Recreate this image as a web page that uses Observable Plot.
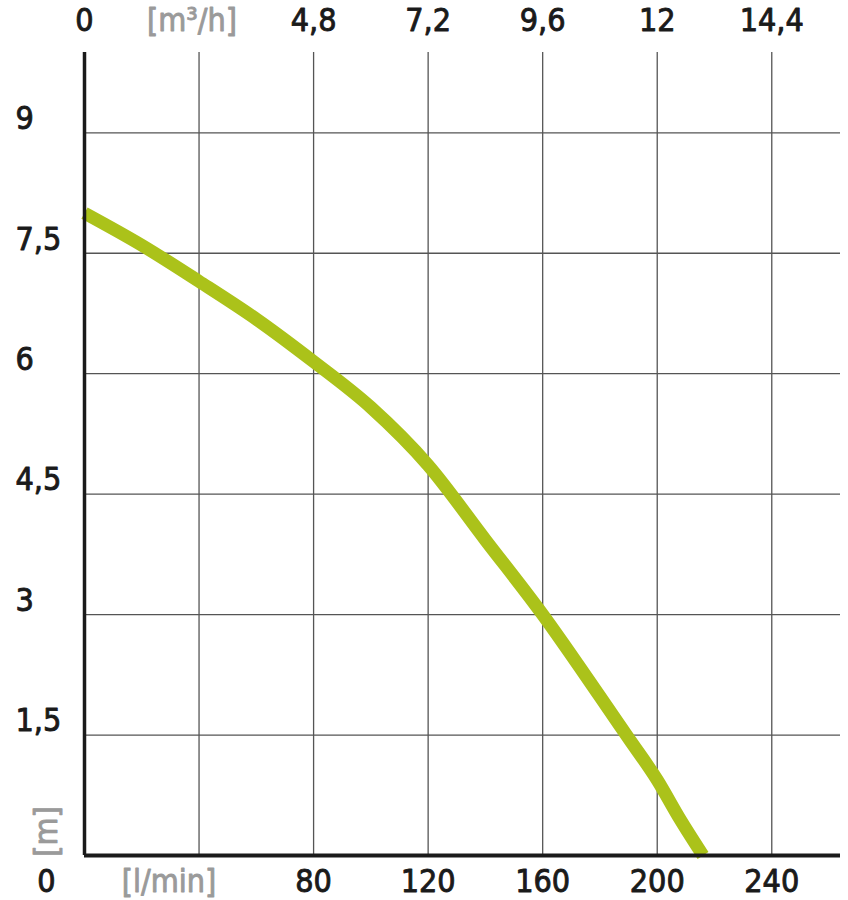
<!DOCTYPE html>
<html>
<head>
<meta charset="utf-8">
<script src="https://cdn.jsdelivr.net/npm/d3@7"></script>
<script src="https://cdn.jsdelivr.net/npm/@observablehq/plot@0.6"></script>
<style>
  html, body { margin: 0; padding: 0; background: #fff; }
  #chart svg { display: block; }
</style>
</head>
<body>
<div id="chart"></div>
<script>
// Flow (l/min) vs head (m)
const flow = [0, 20, 40, 60, 80, 100, 120, 140, 160, 180, 190, 200, 208, 216];
const head = [8.0, 7.6, 7.15, 6.68, 6.15, 5.58, 4.86, 3.93, 3.0, 1.98, 1.46, 0.94, 0.45, 0];

// Bottom axis ticks (l/min) and top axis labels (m³/h)
const xTicks = [0, 40, 80, 120, 160, 200, 240];
const xLabels = ["0", "[l/min]", "80", "120", "160", "200", "240"];
const topLabels = ["0", "[m³/h]", "4,8", "7,2", "9,6", "12", "14,4"];

// Left axis ticks (m)
const yTicks = [1.5, 3, 4.5, 6, 7.5, 9];
const yLabels = ["1,5", "3", "4,5", "6", "7,5", "9"];
const yUnit = "[m]";

const curve = flow.map((f, i) => ({flow: f, head: head[i]}));
const font = "'DejaVu Sans Condensed', 'Liberation Sans Narrow', sans-serif";
const grey = "#9a9a9a";
const ink = "#1a1a1a";
const fs = 32;

const bottomMain = xTicks.map((t, i) => ({t, label: xLabels[i]})).filter((d, i) => i >= 2);
const bottomUnit = [{t: xTicks[1], label: xLabels[1]}];
const bottomZero = [{t: xTicks[0], label: xLabels[0]}];
const topMain = xTicks.map((t, i) => ({t, label: topLabels[i]})).filter((d, i) => i !== 1);
const topUnit = [{t: xTicks[1], label: topLabels[1]}];
const leftLabels = yTicks.map((t, i) => ({t, label: yLabels[i]}));

const txt = (fill) => ({fontSize: fs, fill, stroke: fill, strokeWidth: 0.9, lineAnchor: "middle"});

const chart = Plot.plot({
  width: 848,
  height: 900,
  marginLeft: 84,
  marginRight: 8,
  marginTop: 52,
  marginBottom: 45,
  style: {fontFamily: font, background: "#fff"},
  x: {domain: [0, 264], axis: null},
  y: {domain: [0, 10], axis: null},
  marks: [
    Plot.ruleX(xTicks.slice(1), {x: d => d, stroke: "#555", strokeWidth: 1.3}),
    Plot.ruleY(yTicks, {y: d => d, stroke: "#555", strokeWidth: 1.3}),
    Plot.line(curve, {x: "flow", y: "head", stroke: "#abc21a", strokeWidth: 13, curve: "monotone-x", strokeLinecap: "butt"}),
    Plot.ruleX([0], {stroke: ink, strokeWidth: 3.5}),
    Plot.ruleY([0], {stroke: ink, strokeWidth: 4}),
    // top labels (m³/h)
    Plot.text(topMain, {x: "t", text: "label", frameAnchor: "top", dy: -32, ...txt(ink)}),
    Plot.text(topUnit, {x: "t", text: "label", frameAnchor: "top", dy: -32, dx: -7, ...txt(grey)}),
    // bottom labels (l/min)
    Plot.text(bottomMain, {x: "t", text: "label", frameAnchor: "bottom", dy: 26, ...txt(ink)}),
    Plot.text(bottomUnit, {x: "t", text: "label", frameAnchor: "bottom", dy: 26, dx: -30, ...txt(grey)}),
    Plot.text(bottomZero, {x: "t", text: "label", frameAnchor: "bottom", dy: 26, dx: -38, ...txt(ink)}),
    // left labels (m)
    Plot.text(leftLabels, {y: "t", text: "label", frameAnchor: "left", textAnchor: "start", dx: -69, dy: -14, ...txt(ink)}),
    Plot.text([yUnit], {x: 0, y: 0, text: d => d, dx: -38, dy: -24, rotate: -90, ...txt(grey)})
  ]
});
document.getElementById("chart").appendChild(chart);
</script>
</body>
</html>
